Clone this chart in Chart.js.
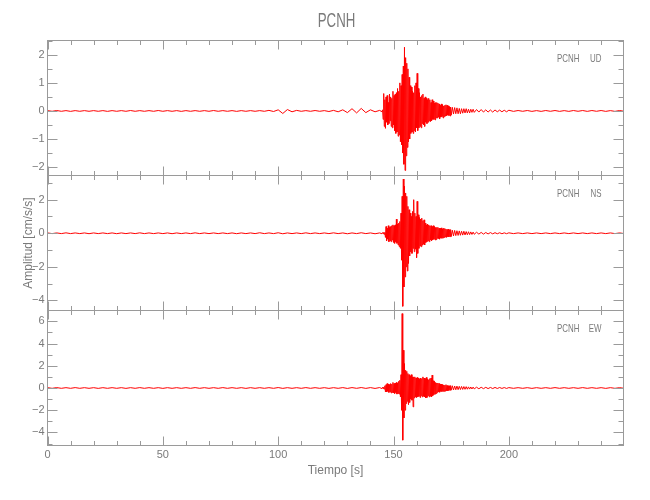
<!DOCTYPE html>
<html>
<head>
<meta charset="utf-8">
<script src="https://cdn.jsdelivr.net/npm/chart.js@4.4.1/dist/chart.umd.min.js"></script>
<style>
  html, body { margin: 0; padding: 0; background: #fff; }
  #wrap { position: relative; width: 650px; height: 500px; }
  #wrap canvas { position: absolute; left: 0; top: 0; }
</style>
</head>
<body>
<div id="wrap">
  <canvas id="ud" width="650" height="500"></canvas>
  <canvas id="ns" width="650" height="500"></canvas>
  <canvas id="ew" width="650" height="500"></canvas>
</div>
<script>
const station = "PCNH";

// sample times [s]: coarse in the quiet parts, 0.25 s through the strong motion
const times = [
  0,2,4,6,8,10,12,14,16,18, 20,22,24,26,28,30,32,34,36,38,
  40,42,44,46,48,50,52,54,56,58, 60,62,64,66,68,70,72,74,76,78,
  80,82,84,86,88,90,92,94,96,98, 100,102,104,106,108,110,112,114,116,118,
  120,122,124,126,128,130,132,134,136,138, 140,142,144,
  145,145.25,145.5,145.75,146,146.25,146.5,146.75,
  147,147.25,147.5,147.75,148,148.25,148.5,148.75,
  149,149.25,149.5,149.75,150,150.25,150.5,150.75,
  151,151.25,151.5,151.75,152,152.25,152.5,152.75,
  153,153.25,153.5,153.75,154,154.25,154.5,154.75,
  155,155.25,155.5,155.75,156,156.25,156.5,156.75,
  157,157.25,157.5,157.75,158,158.25,158.5,158.75,
  159,159.25,159.5,159.75,160,160.25,160.5,160.75,
  161,161.25,161.5,161.75,162,162.25,162.5,162.75,
  163,163.25,163.5,163.75,164,164.25,164.5,164.75,
  165,165.25,165.5,165.75,166,166.25,166.5,166.75,
  167,167.25,167.5,167.75,168,168.25,168.5,168.75,
  169,169.25,169.5,169.75,170,170.25,170.5,170.75,
  171,171.25,171.5,171.75,172,172.25,172.5,172.75,
  173,173.25,173.5,173.75,174,174.25,174.5,174.75, 175,
  175.5,176,176.5,177,177.5,178,178.5,179,179.5,180, 180.5,181,181.5,182,182.5,183,183.5,184,184.5,185,
  186,187,188,189,190,191,192,193,194,195,196,197,198,199,200,
  202,204,206,208,210,212,214,216,218,220, 222,224,226,228,230,232,234,236,238,240, 242,244,246,248,250
];

const ud = [
  .012,-.012,.015,-.012,.012,-.015,.012,-.012,.012,-.012, .012,-.012,.012,-.015,.012,-.012,.012,-.012,.015,-.012,
  .012,-.012,.012,-.012,.015,-.012,.012,-.012,.012,-.015, .012,-.012,.012,-.012,.012,-.012,.015,-.012,.012,-.012,
  .012,-.015,.012,-.012,.012,-.012,.012,-.012,.02,-.02, .04,-.09,.05,-.03,.02,-.012,.012,-.012,.015,-.012,
  .012,-.02,.02,-.03,.04,-.06,.08,-.07,.09,-.06, .04,-.03,.02,
  -.03,.04,-.3,.62,-.55,.4,-.62,.5,
  -.4,.55,-.5,.3,-.45,.6,-.35,.5,
  -.55,.45,-.6,.7,-.5,.55,-.7,.6,
  -.8,.65,-.75,.8,-.9,.7,-.85,1.0,
  -1.1,.9,-1.2,1.3,-1.5,1.6,-1.9,2.27,
  -2.12,1.9,-1.6,1.7,-1.3,1.5,-1.1,1.2,
  -1.0,.9,-.8,.85,-.75,.7,-.8,.65,
  -.7,.9,-.75,1.0,-.6,1.34,-.7,.8,
  -.6,.65,-.55,.5,-.6,.55,-.45,.6,
  -.5,.45,-.55,.5,-.4,.45,-.45,.4,
  -.4,.45,-.35,.4,-.38,.3,-.35,.4,
  -.3,.35,-.3,.28,-.32,.3,-.25,.3,
  -.25,.28,-.22,.25,-.28,.2,-.22,.25,
  -.2,.22,-.25,.18,-.2,.2,-.18,.22,
  -.17,.2,-.15,.18,-.16,.15,-.18,.14, -.15,
  .13,-.11,.12,-.1,.11,-.1,.09,-.1,.08,-.08, .08,-.07,.08,-.07,.06,-.07,.06,-.05,.06,-.05,
  .05,-.04,.05,-.04,.04,-.04,.035,-.04,.035,-.03,.03,-.03,.025,-.03,.025,
  -.015,.015,-.012,.015,-.015,.012,-.015,.015,-.012,.015, -.015,.012,-.015,.015,-.012,.015,-.015,.015,-.012,.015,
  -.015,.012,-.015,.015,-.012
];
const ns = [
  .02,-.02,.02,-.02,.025,-.02,.02,-.02,.02,-.025, .02,-.02,.02,-.02,.02,-.025,.02,-.02,.02,-.02,
  .025,-.02,.02,-.02,.02,-.02,.02,-.025,.02,-.02, .02,-.02,.025,-.02,.02,-.02,.02,-.02,.02,-.02,
  .02,-.025,.02,-.02,.02,-.02,.03,-.02,.02,-.02, .03,-.03,.02,-.02,.02,-.02,.025,-.02,.02,-.02,
  .02,-.02,.025,-.02,.02,-.03,.02,-.02,.03,-.02, .02,-.03,.02,
  -.03,.04,-.03,.05,-.06,.05,-.25,.4,
  -.45,.3,-.35,.45,-.5,.35,-.45,.4,
  -.5,.45,-.4,.5,-.55,.45,-.6,.5,
  -.5,.84,-.6,.55,-.7,.6,-.8,.7,
  -.9,1.2,-1.6,2.2,-4.35,3.23,-3.2,2.8,
  -2.6,2.4,-2.0,2.2,-2.25,1.6,-1.8,1.4,
  -1.35,1.2,-1.1,1.0,-1.2,1.3,-.9,2.0,
  -1.1,1.2,-.95,1.0,-1.45,1.9,-1.2,1.1,
  -.9,.94,-.76,.85,-.8,.9,-.7,.75,
  -.65,.8,-.7,.6,-.55,.5,-.5,.55,
  -.45,.5,-.5,.45,-.4,.45,-.45,.4,
  -.4,.45,-.35,.4,-.4,.35,-.38,.35,
  -.3,.35,-.32,.3,-.35,.3,-.28,.32,
  -.3,.25,-.28,.3,-.25,.28,-.22,.25,
  -.25,.22,-.2,.25,-.22,.2,-.2,.22, -.2,
  .18,-.16,.17,-.14,.15,-.13,.14,-.12,.12,-.11, .12,-.1,.1,-.09,.09,-.08,.08,-.07,.07,-.06,
  .06,-.05,.05,-.05,.045,-.04,.04,-.035,.035,-.03,.03,-.03,.025,-.025,.025,
  -.02,.02,-.02,.02,-.02,.02,-.02,.02,-.02,.02, -.02,.02,-.02,.02,-.02,.02,-.02,.02,-.02,.02,
  -.02,.02,-.02,.02,-.02
];
const ew = [
  .03,-.03,.035,-.03,.03,-.03,.035,-.03,.03,-.03, .03,-.035,.03,-.03,.03,-.03,.03,-.035,.03,-.03,
  .035,-.03,.03,-.03,.03,-.035,.03,-.03,.03,-.03, .03,-.03,.035,-.03,.03,-.03,.03,-.03,.035,-.03,
  .03,-.03,.03,-.035,.03,-.03,.03,-.03,.03,-.03, .04,-.035,.03,-.03,.03,-.03,.035,-.03,.03,-.03,
  .03,-.035,.03,-.03,.035,-.04,.035,-.03,.04,-.035, .035,-.04,.04,
  -.06,.07,-.06,.08,-.1,.2,-.35,.3,
  -.35,.4,-.3,.35,-.4,.3,-.35,.4,
  -.45,.35,-.4,.5,-.45,.4,-.5,.45,
  -.4,.5,-.55,.45,-.5,.6,-.55,.7,
  -.8,1.2,-2.0,6.7,-4.7,3.4,-2.7,2.2,
  -2.0,1.6,-1.4,1.5,-1.2,1.3,-1.5,1.2,
  -1.3,1.1,-1.0,1.2,-1.1,1.0,-1.7,1.0,
  -.9,1.0,-.8,.9,-.85,.95,-.8,.9,
  -.75,.8,-.85,.9,-.7,.85,-.8,1.0,
  -.75,.9,-.8,.85,-.9,.95,-.85,.8,
  -.7,.75,-.8,.85,-.75,.9,-.8,1.16,
  -.7,.65,-.6,.6,-.55,.5,-.5,.45,
  -.4,.45,-.35,.4,-.38,.35,-.3,.35,
  -.32,.3,-.3,.28,-.3,.25,-.28,.3,
  -.25,.22,-.25,.2,-.22,.2,-.2,.22, -.2,
  .2,-.18,.18,-.16,.17,-.15,.15,-.14,.14,-.13, .13,-.12,.12,-.11,.1,-.1,.09,-.09,.08,-.08,
  .07,-.07,.065,-.06,.06,-.055,.05,-.05,.05,-.045,.045,-.04,.04,-.04,.035,
  -.03,.03,-.03,.03,-.035,.03,-.03,.03,-.03,.035, -.03,.03,-.03,.03,-.03,.035,-.03,.03,-.03,.03,
  -.035,.03,-.03,.03,-.03
];

// axis tick labels
const timeTicks = [0, 50, 100, 150, 200];
const udTicks = [-2, -1, 0, 1, 2];
const nsTicks = [-4, -2, 0, 2];
const ewTicks = [-4, -2, 0, 2, 4, 6];

[ud, ns, ew].forEach((s, i) => {
  if (s.length !== times.length) throw new Error("series " + i + " has " + s.length + " values, times has " + times.length);
});

const textColor = "#7a7a7a";
const axisColor = "#9a9a9a";
const family = '"Liberation Sans", Arial, sans-serif';
Chart.defaults.font.family = family;
Chart.defaults.color = textColor;

const fmt = v => (v < 0 ? "\u2212" + Math.abs(v) : String(v));

// narrow text like the original plotting package
function narrowText(ctx, text, x, y, size, squeeze, align) {
  ctx.save();
  ctx.translate(x, y);
  ctx.scale(squeeze, 1);
  ctx.font = size + "px " + family;
  ctx.textAlign = align;
  ctx.textBaseline = "middle";
  ctx.fillText(text, 0, 0);
  ctx.restore();
}

// box with inward ticks on all four sides + station/component label
const frame = {
  id: "frame",
  afterDatasetsDraw(chart, args, opts) {
    const { ctx, chartArea: a, scales: { x, y } } = chart;
    ctx.save();
    ctx.strokeStyle = axisColor;
    ctx.lineWidth = 1;
    ctx.strokeRect(a.left, a.top, a.right - a.left, a.bottom - a.top);
    ctx.beginPath();
    for (let k = 0; k * 10 <= x.max; k++) {
      const px = Math.round(x.getPixelForValue(k * 10)) + 0.5;
      const len = k % 5 === 0 ? 9 : 4.5;
      ctx.moveTo(px, a.top); ctx.lineTo(px, a.top + len);
      ctx.moveTo(px, a.bottom); ctx.lineTo(px, a.bottom - len);
    }
    for (let k = Math.ceil(y.min / opts.minor); k * opts.minor <= y.max; k++) {
      const v = k * opts.minor;
      const py = Math.round(y.getPixelForValue(v)) + 0.5;
      const r = v / opts.major;
      const len = Math.abs(r - Math.round(r)) < 1e-6 ? 10 : 5;
      ctx.moveTo(a.left, py); ctx.lineTo(a.left + len, py);
      ctx.moveTo(a.right, py); ctx.lineTo(a.right - len, py);
    }
    ctx.stroke();
    ctx.fillStyle = textColor;
    narrowText(ctx, station, a.right - 44, a.top + 18, 11, 0.72, "right");
    narrowText(ctx, opts.comp, a.right - 22, a.top + 18, 11, 0.72, "right");
    if (opts.title) {
      narrowText(ctx, opts.title, (a.left + a.right) / 2 + 1, 21.5, 19.5, 0.68, "center");
    }
    ctx.restore();
  }
};

const panelTop = [40.5, 175.5, 310.5];
const plotBottom = 445.5;

function panel(id, idx, comp, values, ticks, yMin, yMax, minor, major) {
  const isBottom = idx === 2;
  const top = panelTop[idx];
  const bottom = isBottom ? plotBottom : panelTop[idx + 1];
  return new Chart(document.getElementById(id), {
    type: "line",
    data: {
      datasets: [{
        data: times.map((t, i) => ({ x: t, y: values[i] })),
        borderColor: "#ff0000",
        borderWidth: 1,
        pointRadius: 0,
        tension: 0
      }]
    },
    options: {
      responsive: false,
      animation: false,
      devicePixelRatio: 1,
      layout: {
        padding: {
          left: 0,
          right: 650 - 623.5,
          top: top,
          bottom: isBottom ? 500 - bottom - 35 : 500 - bottom
        }
      },
      plugins: {
        legend: { display: false },
        tooltip: { enabled: false },
        title: { display: false },
        frame: { comp: comp, minor: minor, major: major, title: idx === 0 ? station : null }
      },
      scales: {
        x: {
          type: "linear",
          min: 0,
          max: 249.7,
          display: isBottom,
          grid: { display: false, drawTicks: false },
          border: { display: false },
          afterBuildTicks: s => { s.ticks = timeTicks.map(v => ({ value: v })); },
          afterFit: s => { if (isBottom) s.height = 35; },
          ticks: { font: { size: 11 }, color: textColor, padding: 3, maxRotation: 0, autoSkip: false },
          title: {
            display: isBottom,
            text: "Tiempo [s]",
            color: textColor,
            font: { size: 12, lineHeight: 1.2 },
            padding: { top: 0, bottom: 3 }
          }
        },
        y: {
          min: yMin,
          max: yMax,
          grid: { display: false, drawTicks: false },
          border: { display: false },
          afterBuildTicks: s => { s.ticks = ticks.map(v => ({ value: v })); },
          afterFit: s => { s.width = 47.5; },
          ticks: { font: { size: 11 }, color: textColor, padding: 3, callback: fmt },
          title: {
            display: comp === "NS",
            text: "Amplitud [cm/s/s]",
            color: textColor,
            font: { size: 12, lineHeight: 1.2 },
            padding: { top: 21, bottom: 0 }
          }
        }
      }
    },
    plugins: [frame]
  });
}

panel("ud", 0, "UD", ud, udTicks, -2.3, 2.51, 0.5, 1);
panel("ns", 1, "NS", ns, nsTicks, -4.6, 3.44, 1, 2);
panel("ew", 2, "EW", ew, ewTicks, -5.18, 6.98, 1, 2);
</script>
</body>
</html>
